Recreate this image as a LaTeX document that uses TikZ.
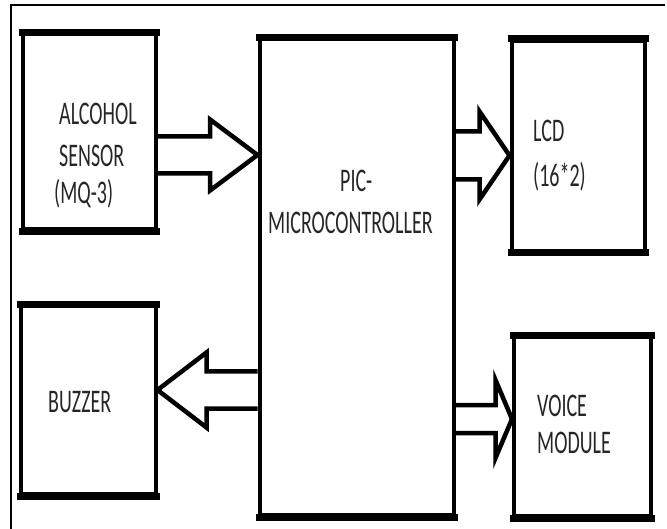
\documentclass[tikz,border=0pt]{standalone}
\usepackage{fontspec}
\setmainfont{Carlito}
\usepackage{graphicx}
\usetikzlibrary{calc}

% tall narrow lettering of the scanned figure
\newcommand{\tallt}[1]{\scalebox{1}[1.65]{#1}}
% hollow block arrow: from, to, centre y, shaft half, head half, x of head base
\newcommand{\blockarrow}[6]{%
  \draw[fat] (#1 |- 0,{#3-#4}) -- (#6,{#3-#4}) -- (#6,{#3-#5}) -- (#2 |- 0,#3)
    -- (#6,{#3+#5}) -- (#6,{#3+#4}) -- (#1 |- 0,{#3+#4});}

\begin{document}
\begin{tikzpicture}[
    x=1pt, y=-1pt,
    block/.style={draw, line width=4pt, inner sep=0pt},
    fat/.style={line width=4.5pt, line join=miter},
    txt/.style={anchor=base west, inner sep=0pt, font=\fontsize{20}{24}\selectfont, text=black!85},
]
\useasboundingbox (0,0) rectangle (667,529);

% frame of the scan
\draw[line width=1.6pt] (665,5) -- (11,5) -- (11,529);

% blocks
\node[block, minimum width=133pt, minimum height=195pt] (alc) at (89.5,132) {};
\node[block, minimum width=194.5pt, minimum height=475.5pt] (pic) at (356.75,277.25) {};
\node[block, minimum width=133pt, minimum height=210pt] (lcd) at (578,146) {};
\node[block, minimum width=135pt, minimum height=187.5pt] (buz) at (88,400.25) {};
\node[block, minimum width=136.5pt, minimum height=178.5pt] (voi) at (582.25,426.75) {};

% heavier top and bottom edges
\foreach \b in {alc,pic,lcd,buz,voi} {
  \draw[line width=7pt] ([xshift=-2pt]\b.north west) -- ([xshift=2pt]\b.north east)
    ([xshift=-2pt]\b.south west) -- ([xshift=2pt]\b.south east);
}

% labels
\node[txt] (alc1) at (59,125) {\tallt{ALCOHOL}};
\node[txt] (alc2) at (59,167) {\tallt{SENSOR}};
\node[txt] (alc3) at (54,204) {\tallt{(MQ-3)}};
\node[txt] (pic1) at (340,192) {\tallt{PIC-}};
\node[txt] (pic2) at (268,234) {\tallt{MICROCONTROLLER}};
\node[txt] (lcd1) at (533,142) {\tallt{LCD}};
\node[txt] (lcd2) at (533,187) {\tallt{(16*2)}};
\node[txt] (buz1) at (48,413) {\tallt{BUZZER}};
\node[txt] (voi1) at (537,417) {\tallt{VOICE}};
\node[txt] (voi2) at (537,453) {\tallt{MODULE}};

% block arrows
\blockarrow{alc.east}{pic.west}{155}{18.5}{35.5}{210}
\blockarrow{pic.east}{lcd.west}{155.5}{24}{44}{479.5}
\blockarrow{pic.west}{buz.east}{390}{18.5}{37.5}{206.5}
\blockarrow{pic.east}{voi.west}{419}{14}{39}{495.5}

\end{tikzpicture}
\end{document}
